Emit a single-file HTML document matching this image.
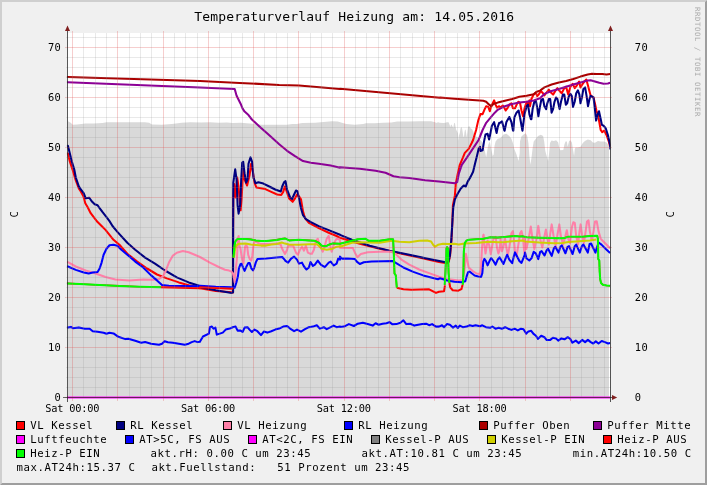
<!DOCTYPE html><html><head><meta charset="utf-8"><title>Temperaturverlauf Heizung</title>
<style>html,body{margin:0;padding:0;background:#f0f0f0;overflow:hidden}svg{display:block}text{font-family:"DejaVu Sans Mono","Liberation Mono",monospace}</style></head><body>
<svg width="707" height="485" viewBox="0 0 707 485">
<defs><clipPath id="cv"><rect x="66.4" y="33" width="544.1" height="366"/></clipPath></defs>
<rect x="0" y="0" width="707" height="485" fill="#f0f0f0"/>
<path d="M0 0H707L705 2H2V483L0 485Z" fill="#cfcfcf"/>
<path d="M707 0V485H0L2 483H705V2Z" fill="#9e9e9e"/>
<rect x="67" y="33" width="543" height="365" fill="#fff"/>
<path d="M68 398L68.0 121.9L68.0 121.3L70.7 122.7L72.7 124.7L77.0 124.4L85.5 123.6L93.9 123.6L102.4 123.0L106.7 122.2L116.6 122.2L130.7 122.2L144.9 122.2L149.1 122.7L151.9 124.4L161.8 124.7L171.7 124.1L176.0 123.6L181.6 122.7L190.1 122.2L201.4 122.4L209.9 122.2L218.4 122.7L226.9 122.4L232.6 123.0L241.0 122.7L246.7 123.3L255.7 124.1L261.3 124.7L267.0 124.7L278.3 124.7L286.8 124.7L292.4 123.9L296.7 124.1L302.3 123.0L315.1 122.7L323.6 121.9L332.0 121.3L337.7 121.6L341.9 122.7L346.2 124.1L354.7 124.7L363.2 124.1L366.0 123.3L374.5 123.3L383.0 122.7L391.4 122.4L397.1 121.6L408.4 121.6L419.7 121.3L431.0 121.3L435.3 122.2L436.0 123.0L438.2 122.2L439.6 122.8L443.2 123.0L445.4 122.8L446.8 122.2L448.6 122.2L449.7 125.0L450.3 127.2L450.8 125.3L451.5 124.6L452.5 126.4L453.3 128.0L454.0 123.5L454.9 122.8L455.5 126.4L456.2 129.7L457.3 131.8L458.0 133.6L458.5 140.9L458.9 135.8L459.8 132.9L460.5 128.6L461.4 127.0L462.1 128.6L462.8 132.9L463.4 136.9L464.0 136.5L464.5 132.2L465.0 129.7L465.6 129.7L466.2 133.6L466.7 137.6L467.2 133.6L467.9 127.9L468.8 126.1L469.8 126.8L470.6 128.2L472.1 129.3L473.2 131.5L473.9 133.6L474.6 135.8L477.5 137.3L481.8 141.6L483.3 146.0L484.7 150.3L486.2 157.5L487.3 150.3L488.3 144.5L489.8 141.6L491.2 148.9L492.7 156.1L493.7 154.6L494.5 146.0L495.6 141.6L497.7 138.8L500.6 138.0L503.5 134.4L506.4 133.7L509.3 135.9L511.4 138.8L512.9 143.1L514.3 148.9L516.5 154.6L518.6 161.1L519.7 153.2L520.0 141.6L521.4 136.6L523.6 134.4L525.8 133.3L527.2 135.9L528.4 143.1L529.4 156.1L530.4 164.7L531.5 157.5L532.7 147.4L533.7 141.6L535.9 138.8L538.0 135.9L540.9 134.7L543.1 135.9L544.2 141.6L545.3 151.0L546.7 156.1L548.1 161.1L549.1 153.2L550.0 143.1L551.5 140.5L553.9 140.9L556.1 140.2L558.2 142.4L559.2 147.4L560.4 150.3L563.3 150.0L564.4 144.5L565.5 141.6L566.9 141.6L567.6 146.7L569.1 140.9L570.5 140.2L571.9 142.4L573.1 150.3L574.1 156.1L574.8 148.9L575.6 147.4L577.7 147.4L580.6 146.7L582.8 143.1L584.9 140.9L587.8 139.5L590.7 140.2L592.9 142.4L595.0 142.8L597.9 140.9L600.8 141.6L603.7 141.6L606.6 142.4L609.0 146.0L609 398Z" fill="#d9d9d9"/>
<g clip-path="url(#cv)"><path d="M66.9 153.4L67.9 153.4L69.9 161.7L72.9 170.6L75.8 180.5L78.8 188.4L80.8 191.4L83.4 196.3L85.3 203.3L87.7 207.2L90.7 213.2L93.7 217.1L97.6 222.1L101.6 226.0L105.5 229.9L113.5 239.8L119.4 244.8L127.3 253.7L137.2 261.6L147.1 268.5L157.0 274.5L166.9 278.4L178.8 282.4L188.7 285.3L200.0 287.3L200.0 288.3L215.8 290.9L231.7 292.3L232.9 292.5L233.1 236.0L233.3 199.4L234.1 184.0L235.6 197.4L236.4 187.5L237.2 177.6L238.6 187.5L240.6 210.3L241.6 199.4L242.6 179.6L243.6 167.7L244.6 179.6L247.1 185.5L249.5 175.6L251.1 163.8L252.5 169.7L254.5 182.6L256.4 187.5L259.4 187.9L265.3 189.1L271.3 191.9L277.2 194.5L281.2 195.0L283.2 191.9L284.8 186.5L286.7 191.5L289.1 198.4L292.7 201.8L295.0 198.4L297.0 194.5L299.0 196.4L301.0 199.4L303.0 211.3L305.0 218.2L308.9 222.8L318.8 228.1L328.7 232.7L336.6 236.0L340.0 237.8L359.8 243.8L379.6 248.7L399.4 253.3L419.2 257.6L439.0 262.0L446.9 263.2L448.7 262.0L450.1 255.6L451.5 239.8L452.3 224.0L452.9 205.3L454.9 195.4L455.8 183.6L457.8 173.7L459.8 164.8L462.8 157.8L464.8 152.9L468.7 148.9L471.7 143.0L473.1 140.0L476.1 130.0L478.2 120.6L480.4 114.1L482.6 114.1L484.7 109.1L486.2 106.2L488.3 106.9L489.8 111.2L491.2 106.2L492.7 103.3L494.1 100.4L495.6 104.7L497.0 107.6L499.2 106.2L500.6 107.6L502.8 105.5L504.2 107.6L505.7 110.5L507.8 107.6L509.3 104.7L511.4 103.3L512.9 108.3L515.0 108.3L517.2 103.3L518.6 101.8L520.1 103.3L521.5 110.5L523.0 116.3L524.4 109.1L526.6 101.8L528.0 104.7L529.5 100.4L530.0 106.2L531.4 99.0L533.6 94.6L535.8 92.5L537.2 96.1L538.7 94.6L540.8 91.0L543.0 93.2L544.4 95.4L546.6 92.5L548.8 89.6L550.9 92.5L553.1 94.6L555.3 91.0L557.4 88.1L559.6 91.0L561.7 93.2L563.9 88.9L566.1 86.7L568.2 94.6L570.4 86.7L572.6 83.8L574.7 88.1L576.9 85.3L579.1 81.6L580.5 87.4L582.7 83.8L584.8 80.9L586.3 79.5L587.7 84.5L589.2 90.3L590.6 95.4L593.5 97.5L594.9 103.3L596.4 110.5L597.8 114.8L599.3 122.0L600.7 130.0L602.2 132.2L604.3 130.7L606.5 135.0L608.6 140.8L610.1 146.6" stroke="#ff0000" stroke-width="2.05" fill="none" stroke-linejoin="round" stroke-linecap="butt" />
<path d="M66.9 145.8L67.9 145.8L69.9 153.8L71.9 161.7L74.3 169.6L75.8 177.5L78.8 186.4L80.8 189.4L83.8 193.4L85.7 198.3L89.3 197.7L91.7 201.3L94.7 204.3L97.6 205.2L99.6 208.2L102.6 212.2L106.5 217.1L109.5 221.1L112.5 226.0L117.4 231.9L127.3 242.8L135.2 249.7L145.1 257.6L155.0 263.6L165.0 270.5L176.8 277.4L188.7 282.4L200.0 285.9L200.0 287.3L215.8 290.3L231.7 292.9L233.1 292.3L233.1 236.0L233.3 182.6L235.2 169.3L236.6 179.6L237.6 205.3L238.6 213.7L240.2 204.4L241.2 179.6L242.2 162.8L243.2 161.8L244.6 173.7L246.1 182.6L247.5 179.6L248.5 163.8L250.5 157.4L252.1 161.8L253.5 177.6L255.4 183.2L258.4 182.2L263.4 183.6L269.3 186.5L275.2 189.5L280.8 191.5L282.2 186.5L284.2 182.0L285.5 181.2L287.1 189.5L290.1 197.4L292.1 199.0L294.1 194.5L296.0 190.5L297.4 191.1L299.0 198.4L301.0 208.3L303.0 215.2L305.9 219.2L310.9 222.2L318.8 226.1L328.7 230.1L340.0 234.7L340.0 234.9L351.9 239.8L369.7 245.7L389.5 250.7L409.3 254.7L429.1 259.0L446.9 262.6L448.5 261.6L449.9 255.6L451.3 239.8L452.5 220.0L452.5 219.2L453.3 207.3L454.9 199.4L457.8 193.5L460.8 188.5L463.8 185.5L465.7 186.5L467.7 181.6L470.7 176.6L473.1 171.7L475.0 163.8L477.0 155.8L478.6 148.9L480.0 146.9L480.4 151.0L482.6 150.3L484.0 141.6L485.5 134.4L487.6 133.7L489.1 139.5L490.5 133.0L491.9 125.8L494.1 122.2L495.6 128.7L496.6 133.0L497.7 127.2L499.2 122.9L499.2 123.5L502.0 121.3L504.2 130.0L504.6 130.7L506.4 122.0L509.3 117.0L511.4 122.0L512.9 130.0L513.3 130.7L514.3 117.7L516.5 112.7L518.6 110.5L520.1 117.7L522.3 130.0L522.5 130.7L524.4 114.8L526.6 106.2L528.0 104.7L529.5 114.8L530.9 119.2L531.4 119.2L532.6 109.1L534.3 101.8L535.8 100.4L537.2 107.6L538.4 116.3L539.8 107.6L541.3 99.7L543.0 99.0L544.4 106.2L546.2 109.1L547.3 103.3L548.8 99.0L550.2 99.0L551.6 112.7L553.1 109.1L554.5 101.8L556.0 97.5L557.4 99.0L559.6 109.1L561.0 101.8L562.9 94.6L564.3 94.6L565.8 104.7L567.2 103.3L568.7 96.8L570.4 93.9L571.8 96.1L573.0 106.9L574.7 101.8L576.2 93.2L577.9 90.3L579.4 94.6L580.5 103.3L581.9 97.5L583.4 88.9L585.1 87.4L586.6 96.1L588.0 106.2L589.5 99.0L590.6 95.8L593.5 97.5L594.9 109.1L596.1 120.6L597.5 114.8L599.0 111.2L600.4 117.7L601.9 124.9L603.6 125.7L605.8 128.5L607.9 135.0L610.1 145.1L610.4 149.5" stroke="#000080" stroke-width="2.05" fill="none" stroke-linejoin="round" stroke-linecap="butt" />
<path d="M66.9 262.2L67.9 262.2L75.8 266.5L85.7 270.5L95.6 273.5L105.5 277.0L115.4 279.4L129.3 280.4L143.2 279.4L153.1 279.8L159.0 279.0L163.0 276.4L165.9 270.5L168.9 262.6L172.9 255.6L176.8 252.7L182.8 251.1L188.7 252.3L194.7 254.7L200.0 257.0L200.0 257.0L209.9 262.6L219.8 267.5L225.0 269.8L229.1 270.6L231.4 271.6L233.0 273.5L234.3 279.6L234.7 282.4L235.3 276.5L236.1 266.2L236.9 259.0L237.9 238.4L238.6 236.1L239.4 245.6L240.5 248.7L242.0 259.0L243.4 263.7L244.1 255.9L245.1 246.6L246.1 245.1L247.2 246.6L248.2 254.9L249.7 259.0L251.3 260.6L252.3 255.9L253.4 245.6L254.4 242.0L255.9 241.5L258.0 243.0L261.1 244.1L266.2 244.1L271.4 243.9L276.5 243.6L280.7 244.6L281.7 247.7L283.2 250.8L285.0 253.9L285.1 253.7L287.1 249.7L288.1 245.7L293.1 245.7L296.0 252.7L298.0 254.7L300.0 249.7L302.0 246.7L304.0 250.7L305.9 245.7L307.9 252.7L309.9 253.7L311.9 253.7L313.9 249.7L315.8 240.8L317.8 238.8L319.8 245.7L322.8 251.7L324.8 245.7L326.7 238.8L328.7 235.8L330.7 247.7L331.7 251.7L334.7 241.8L336.6 238.8L340.0 239.8L340.0 247.7L352.9 248.1L354.9 252.7L357.4 257.2L360.8 254.1L367.7 252.3L379.6 251.7L391.5 251.7L396.4 254.7L401.4 259.6L409.3 264.6L419.2 269.5L429.1 273.1L439.0 276.8L446.9 279.0L458.8 280.6L462.8 280.0L464.8 267.5L465.9 253.7L467.1 259.6L468.7 267.5L472.7 271.1L476.6 273.5L480.0 273.9L480.4 273.3L481.1 266.1L481.8 251.6L482.6 240.1L483.3 235.1L483.6 234.7L484.4 244.8L485.5 253.5L486.5 247.7L487.6 240.5L489.1 244.8L490.8 254.2L491.9 247.7L493.4 239.1L495.6 236.9L497.0 247.7L498.4 253.5L499.5 250.6L500.6 239.1L502.0 251.3L503.5 246.3L504.9 237.6L506.4 247.7L507.8 254.9L509.3 247.7L511.4 233.3L512.9 231.1L513.9 239.1L515.0 252.0L516.5 256.4L517.9 247.7L520.1 233.3L521.5 231.1L523.0 237.6L524.4 253.5L525.0 238.9L526.4 249.0L528.6 238.9L530.8 226.6L532.5 238.9L534.4 249.0L536.5 238.9L538.3 225.9L540.2 238.9L542.3 247.5L544.5 236.0L545.9 229.5L547.4 238.9L548.8 244.6L550.3 233.1L551.7 224.4L553.6 236.0L555.6 246.1L557.5 234.5L559.3 224.4L561.1 237.4L563.2 244.6L565.4 236.0L566.8 230.2L568.3 238.9L570.0 243.2L571.9 227.3L573.3 222.3L574.8 223.0L576.2 236.0L578.1 244.6L579.5 231.6L580.6 224.4L582.0 234.5L583.9 243.2L585.6 231.6L587.0 221.5L588.5 220.4L589.9 231.6L591.7 240.3L593.5 231.6L595.0 221.5L596.7 221.3L598.6 231.6L600.8 238.9L604.4 242.5L610.1 248.2" stroke="#ff80a8" stroke-width="2.05" fill="none" stroke-linejoin="round" stroke-linecap="butt" />
<path d="M66.9 266.5L67.9 266.5L75.8 269.9L83.8 272.5L88.7 273.5L92.7 272.5L97.6 271.9L99.6 268.5L101.6 262.6L103.6 254.7L106.5 248.7L109.5 245.3L113.5 244.8L117.4 245.7L121.4 249.7L127.3 254.7L135.2 261.6L143.2 267.5L151.1 275.4L157.0 280.4L162.0 285.0L168.9 285.7L182.8 285.9L200.0 286.3L200.0 285.7L215.8 286.7L231.7 287.3L234.7 287.7L236.3 282.7L237.9 276.5L238.9 268.3L240.5 264.2L241.5 263.7L243.0 267.3L244.6 270.9L246.1 267.3L248.2 263.1L249.7 263.1L251.3 268.3L253.0 270.4L254.4 267.3L255.9 262.1L257.5 259.0L266.2 258.5L276.5 257.5L282.2 257.0L285.0 260.1L285.1 260.6L288.1 262.6L291.1 258.6L294.1 256.6L297.0 259.6L299.0 263.6L302.0 262.6L304.0 266.5L306.5 269.5L308.9 267.5L310.5 262.0L312.9 265.9L314.9 264.6L317.8 260.6L320.8 264.6L324.8 267.1L328.7 262.6L330.7 261.6L333.7 265.5L336.6 263.6L338.2 258.6L340.0 259.6L340.0 256.6L342.0 258.6L347.9 258.6L354.9 259.0L356.8 261.6L359.8 264.0L363.8 262.2L371.7 261.6L383.6 261.2L392.5 261.0L395.4 262.6L403.4 267.5L413.3 271.9L423.2 275.4L433.1 278.0L438.0 279.2L440.0 278.3L447.2 280.5L454.4 281.7L461.6 282.2L465.3 281.2L466.7 276.2L468.1 272.1L469.6 271.6L471.7 273.3L474.6 275.5L478.2 276.5L481.1 276.9L482.3 273.3L483.3 261.7L484.4 258.9L485.9 261.0L487.6 265.4L489.8 260.3L491.2 258.1L493.4 261.0L495.6 264.6L497.7 259.6L499.5 257.4L501.3 260.3L503.5 263.9L505.7 258.1L507.1 254.8L509.3 259.6L512.2 263.2L513.9 256.0L515.0 252.4L517.2 256.7L519.4 261.0L521.5 262.9L523.7 257.4L524.8 254.5L525.0 252.6L526.4 258.3L529.3 260.5L531.5 258.3L533.7 251.8L535.8 253.3L538.3 259.1L540.2 251.8L541.6 251.1L544.5 255.5L546.6 250.4L548.1 248.7L551.7 255.9L553.9 248.2L555.3 246.8L558.5 252.6L560.4 246.8L561.8 245.4L565.4 253.3L567.6 246.8L569.0 246.1L572.6 254.0L574.8 246.1L576.2 244.6L579.8 252.6L582.0 245.8L583.4 244.6L587.8 252.6L589.6 243.9L591.1 243.5L595.4 252.6L596.9 247.5L598.6 242.5L601.5 244.6L605.8 249.0L610.1 253.0" stroke="#0000ff" stroke-width="2.05" fill="none" stroke-linejoin="round" stroke-linecap="butt" />
<path d="M66.9 76.9L67.5 76.9L200.0 80.9L200.0 80.9L239.6 82.9L279.2 84.9L299.0 85.4L340.0 89.0L340.0 88.8L440.0 97.7L440.0 97.5L454.4 98.7L468.9 99.7L483.3 100.8L486.2 101.8L489.1 104.7L491.2 106.2L493.4 104.0L497.7 102.6L504.9 100.8L512.2 99.0L519.4 96.8L526.6 95.8L533.8 94.3L536.7 91.7L540.0 90.6L544.4 87.4L551.6 84.5L558.9 82.4L566.1 80.9L573.3 79.0L580.5 76.6L587.7 74.4L592.0 73.7L596.4 74.1L602.2 74.0L606.5 74.4L610.1 74.1" stroke="#aa0000" stroke-width="2.05" fill="none" stroke-linejoin="round" stroke-linecap="butt" />
<path d="M66.9 82.3L67.5 82.3L200.0 87.4L200.0 87.4L234.7 89.0L236.6 95.7L240.6 103.7L242.6 108.6L244.6 111.6L248.5 115.1L251.9 119.5L259.4 126.4L269.3 135.3L279.2 144.3L287.1 150.8L295.0 156.1L303.0 161.1L310.9 162.7L318.8 163.7L330.7 165.6L340.0 167.7L340.0 167.3L359.8 168.7L375.6 170.7L385.5 172.7L393.5 176.2L399.4 177.2L409.3 178.0L425.1 180.2L439.0 181.6L454.9 183.2L457.2 182.0L458.8 173.7L461.8 164.8L466.7 157.8L470.7 151.9L474.7 145.9L478.6 140.0L482.6 130.0L486.2 122.8L490.5 117.7L494.8 112.7L497.7 109.8L504.9 106.2L512.2 104.0L519.4 102.6L526.6 101.8L533.8 100.4L540.0 98.2L544.4 93.9L551.6 91.0L558.9 88.9L566.1 86.7L573.3 84.5L580.5 82.4L587.7 80.5L590.6 80.2L594.9 81.4L599.3 82.8L603.6 83.8L607.9 83.5L610.1 82.8" stroke="#8c0096" stroke-width="2.05" fill="none" stroke-linejoin="round" stroke-linecap="butt" />
<path d="M67 397.5H610" stroke="#ff00ff" stroke-width="2" fill="none"/>
<path d="M66.9 327.4L67.9 327.4L70.9 326.9L72.9 328.2L78.8 327.4L84.8 328.8L89.7 328.8L92.7 331.2L97.6 331.8L103.6 332.8L106.5 333.8L109.5 332.8L113.5 333.4L118.4 336.8L125.3 339.1L128.3 338.7L135.2 340.7L141.2 342.7L145.1 342.1L151.1 343.7L159.0 344.7L162.0 343.7L164.6 341.3L167.9 342.3L172.9 342.7L178.8 343.7L184.8 344.7L188.7 343.7L191.7 342.1L194.7 341.1L197.6 342.1L200.0 341.7L200.0 341.5L203.0 336.5L208.9 333.6L209.9 327.2L211.9 326.6L213.5 328.6L215.4 327.6L216.8 334.6L219.8 333.6L222.8 332.6L225.7 329.6L229.7 328.6L232.7 327.2L235.6 326.6L237.6 330.6L240.6 330.6L242.6 332.0L244.6 327.6L247.5 327.2L249.5 329.6L251.9 332.0L254.5 329.6L257.4 331.2L261.0 335.1L263.8 331.6L267.3 332.6L271.3 331.2L275.2 329.6L279.2 328.6L283.2 326.6L287.1 326.0L290.1 328.6L294.1 331.2L297.0 329.6L301.0 331.6L305.0 329.2L308.9 327.2L312.9 326.6L316.8 325.2L319.8 328.6L323.8 327.2L326.7 329.2L330.7 327.2L333.7 325.6L336.6 327.2L340.0 326.6L340.0 327.0L344.0 326.6L348.9 324.1L353.9 326.0L357.8 323.7L362.8 322.7L367.7 324.1L372.7 325.6L375.6 323.3L378.6 324.7L382.6 323.7L386.5 323.3L389.5 322.1L392.5 324.3L396.4 324.1L400.4 322.7L403.4 320.3L406.3 324.1L410.3 323.7L414.3 325.6L418.2 324.7L422.2 324.1L426.1 323.7L429.1 325.2L432.1 324.1L436.0 326.6L439.0 326.6L442.0 325.2L444.0 327.2L446.9 324.1L449.9 324.7L452.9 327.6L455.8 325.6L457.8 328.0L459.8 325.6L462.8 327.2L466.7 326.6L469.7 325.2L472.7 326.0L475.6 325.2L480.0 326.2L482.3 325.3L485.9 327.2L490.2 327.8L492.3 326.5L495.5 328.7L498.7 327.8L501.9 328.7L505.1 327.2L508.2 328.7L511.4 329.9L514.6 328.7L517.8 330.4L521.0 328.7L523.5 329.3L526.3 333.6L528.4 331.4L531.2 330.8L533.3 333.6L535.9 335.7L538.0 338.9L541.2 335.7L544.4 337.2L546.5 339.9L550.3 339.9L552.9 337.8L556.0 338.4L558.2 340.6L561.4 338.4L564.5 339.3L567.7 337.2L570.3 338.9L572.4 342.7L575.8 340.6L578.8 343.1L582.2 339.9L585.1 342.1L587.9 339.9L590.7 342.1L593.2 343.5L595.8 341.4L598.5 343.5L601.7 341.0L604.9 342.1L608.1 343.5L610.2 343.1" stroke="#0000ff" stroke-width="2.05" fill="none" stroke-linejoin="round" stroke-linecap="butt" />
<path d="M233.7 256.6L234.1 257.0L234.8 250.8L235.8 246.6L237.4 244.4L239.4 243.8L245.6 243.6L250.8 244.6L255.9 245.1L261.1 245.6L266.2 245.6L271.4 244.6L276.5 244.1L281.7 242.5L285.0 243.6L289.1 244.4L299.0 244.8L308.9 244.2L316.8 244.2L318.8 245.7L321.8 248.7L326.7 249.7L332.7 248.7L336.6 246.7L340.0 246.3L340.0 246.7L345.9 244.8L351.9 242.8L359.8 242.2L379.6 242.8L391.5 240.8L399.4 241.8L409.3 242.2L419.2 240.8L427.1 240.4L431.1 241.4L433.1 244.8L435.0 246.7L438.0 244.8L443.0 243.8L448.7 244.1L454.4 243.7L458.8 244.5L464.5 243.4L476.1 243.1L483.3 242.2L490.5 241.7L497.7 242.2L504.9 241.9L512.2 241.2L522.3 240.5L525.1 241.4L539.4 242.5L553.9 243.2L562.5 242.9L568.3 242.0L582.7 241.0L589.9 240.6L596.4 239.6" stroke="#d0d000" stroke-width="2.05" fill="none" stroke-linejoin="round" stroke-linecap="butt" />
<path d="M161.0 287.3L200.0 288.3L200.0 287.3L231.7 288.7L233.3 288.3" stroke="#ff0000" stroke-width="2.05" fill="none" stroke-linejoin="round" stroke-linecap="butt" />
<path d="M396.8 287.7L403.4 289.3L411.3 289.7L429.1 289.3L432.1 290.9L436.0 292.9L439.0 291.7L444.0 291.3L445.0 285.3" stroke="#ff0000" stroke-width="2.05" fill="none" stroke-linejoin="round" stroke-linecap="butt" />
<path d="M449.4 283.0L450.2 287.4L452.7 290.2L458.3 290.7L461.4 289.2L462.6 284.9" stroke="#ff0000" stroke-width="2.05" fill="none" stroke-linejoin="round" stroke-linecap="butt" />
<path d="M66.9 283.4L67.5 283.4L79.8 284.0L99.6 285.0L119.4 285.9L139.2 286.7L161.0 287.3" stroke="#ff0000" stroke-width="1.6" fill="none" stroke-linejoin="round" stroke-linecap="butt" />
<path d="M66.9 283.4L67.5 283.4L79.8 284.0L99.6 285.0L119.4 285.9L139.2 286.7L161.0 287.3" stroke="#00ff00" stroke-width="2.05" fill="none" stroke-linejoin="round" stroke-linecap="butt" />
<path d="M233.3 257.6L233.6 254.9L233.8 253.4L234.5 245.6L235.3 241.5L236.9 239.4L238.4 238.9L245.6 238.9L250.8 239.4L255.9 240.5L261.1 241.0L266.2 241.0L271.4 240.5L276.5 239.9L281.7 238.9L285.0 238.4L289.1 240.4L299.0 239.8L308.9 240.4L314.9 240.8L318.8 242.8L321.8 245.7L325.7 246.3L328.7 244.8L332.7 243.4L340.0 243.8L340.0 243.8L347.9 241.8L357.8 239.2L365.7 238.8L368.7 240.8L379.6 240.8L389.5 239.2L393.1 239.2L393.9 255.6L394.5 273.5L395.8 275.4L396.8 287.7" stroke="#ff0000" stroke-width="1.6" fill="none" stroke-linejoin="round" stroke-linecap="butt" />
<path d="M233.3 257.6L233.6 254.9L233.8 253.4L234.5 245.6L235.3 241.5L236.9 239.4L238.4 238.9L245.6 238.9L250.8 239.4L255.9 240.5L261.1 241.0L266.2 241.0L271.4 240.5L276.5 239.9L281.7 238.9L285.0 238.4L289.1 240.4L299.0 239.8L308.9 240.4L314.9 240.8L318.8 242.8L321.8 245.7L325.7 246.3L328.7 244.8L332.7 243.4L340.0 243.8L340.0 243.8L347.9 241.8L357.8 239.2L365.7 238.8L368.7 240.8L379.6 240.8L389.5 239.2L393.1 239.2L393.9 255.6L394.5 273.5L395.8 275.4L396.8 287.7" stroke="#00ff00" stroke-width="2.05" fill="none" stroke-linejoin="round" stroke-linecap="butt" />
<path d="M444.7 284.9L445.4 273.1L446.4 248.4L447.1 247.1L447.9 248.4L448.6 273.1L449.4 283.0" stroke="#ff0000" stroke-width="1.6" fill="none" stroke-linejoin="round" stroke-linecap="butt" />
<path d="M444.7 284.9L445.4 273.1L446.4 248.4L447.1 247.1L447.9 248.4L448.6 273.1L449.4 283.0" stroke="#00ff00" stroke-width="2.05" fill="none" stroke-linejoin="round" stroke-linecap="butt" />
<path d="M462.8 284.8L463.4 273.3L463.8 251.6L464.8 243.0L466.7 240.4L468.9 239.8L480.4 238.9L483.3 238.8L490.5 237.3L497.7 237.6L504.9 236.9L512.2 236.2L515.0 235.9L519.4 236.5L522.3 236.2L526.6 237.3L539.4 237.7L553.9 238.1L564.0 238.1L568.3 236.7L582.7 236.7L589.9 236.0L597.2 235.7L597.9 238.9L598.3 259.1L599.3 260.5L599.7 272.0L600.2 279.3L601.0 282.9L602.9 284.7L606.5 285.5L610.1 285.8" stroke="#ff0000" stroke-width="1.6" fill="none" stroke-linejoin="round" stroke-linecap="butt" />
<path d="M462.8 284.8L463.4 273.3L463.8 251.6L464.8 243.0L466.7 240.4L468.9 239.8L480.4 238.9L483.3 238.8L490.5 237.3L497.7 237.6L504.9 236.9L512.2 236.2L515.0 235.9L519.4 236.5L522.3 236.2L526.6 237.3L539.4 237.7L553.9 238.1L564.0 238.1L568.3 236.7L582.7 236.7L589.9 236.0L597.2 235.7L597.9 238.9L598.3 259.1L599.3 260.5L599.7 272.0L600.2 279.3L601.0 282.9L602.9 284.7L606.5 285.5L610.1 285.8" stroke="#00ff00" stroke-width="2.05" fill="none" stroke-linejoin="round" stroke-linecap="butt" /></g>
<path d="M83.5 33V398M95.5 33V398M106.5 33V398M129.5 33V398M140.5 33V398M151.5 33V398M174.5 33V398M185.5 33V398M197.5 33V398M219.5 33V398M231.5 33V398M242.5 33V398M264.5 33V398M276.5 33V398M287.5 33V398M310.5 33V398M321.5 33V398M332.5 33V398M355.5 33V398M366.5 33V398M378.5 33V398M400.5 33V398M412.5 33V398M423.5 33V398M445.5 33V398M457.5 33V398M468.5 33V398M491.5 33V398M502.5 33V398M513.5 33V398M536.5 33V398M547.5 33V398M559.5 33V398M581.5 33V398M593.5 33V398M604.5 33V398" stroke="#8f8f8f" stroke-opacity="0.2" stroke-width="1" fill="none" shape-rendering="crispEdges"/>
<path d="M66 387.5H611M66 377.5H611M66 367.5H611M66 357.5H611M66 337.5H611M66 327.5H611M66 317.5H611M66 307.5H611M66 287.5H611M66 277.5H611M66 267.5H611M66 257.5H611M66 237.5H611M66 227.5H611M66 217.5H611M66 207.5H611M66 187.5H611M66 177.5H611M66 167.5H611M66 157.5H611M66 137.5H611M66 127.5H611M66 117.5H611M66 107.5H611M66 87.5H611M66 77.5H611M66 67.5H611M66 57.5H611M66 37.5H611" stroke="#8f8f8f" stroke-opacity="0.2" stroke-width="1" fill="none" shape-rendering="crispEdges"/>
<path d="M72.5 31V401M117.5 31V401M163.5 31V401M208.5 31V401M253.5 31V401M298.5 31V401M344.5 31V401M389.5 31V401M434.5 31V401M479.5 31V401M525.5 31V401M570.5 31V401" stroke="#de4f4f" stroke-opacity="0.28" stroke-width="1" fill="none" shape-rendering="crispEdges"/>
<path d="M65 397.5H612M65 347.5H612M65 297.5H612M65 247.5H612M65 197.5H612M65 147.5H612M65 97.5H612M65 47.5H612" stroke="#de4f4f" stroke-opacity="0.28" stroke-width="1" fill="none" shape-rendering="crispEdges"/>
<path d="M67.5 401.5V30M610.5 401.5V30" stroke="#1f1f1f" stroke-opacity="0.75" stroke-width="1" fill="none" shape-rendering="crispEdges"/>
<path d="M63 397.5H612" stroke="#1f1f1f" stroke-opacity="0.65" stroke-width="1" fill="none" shape-rendering="crispEdges"/>
<path d="M65 31L67.5 25.6L70 31Z" fill="#801f1f"/>
<path d="M608 31L610.5 25.6L613 31Z" fill="#801f1f"/>
<path d="M612 395L617.2 397.5L612 400Z" fill="#801f1f"/>
<text x="194.3" y="21" font-size="13" letter-spacing="0.173" text-anchor="start" fill="#000" xml:space="preserve" >Temperaturverlauf Heizung am: 14.05.2016</text>
<text x="54.599999999999994" y="401.0" font-size="10.4" letter-spacing="0.439" text-anchor="start" fill="#000" xml:space="preserve" >0</text>
<text x="634.7" y="401.0" font-size="10.4" letter-spacing="0.439" text-anchor="start" fill="#000" xml:space="preserve" >0</text>
<text x="47.9" y="351.0" font-size="10.4" letter-spacing="0.439" text-anchor="start" fill="#000" xml:space="preserve" >10</text>
<text x="634.7" y="351.0" font-size="10.4" letter-spacing="0.439" text-anchor="start" fill="#000" xml:space="preserve" >10</text>
<text x="47.9" y="301.0" font-size="10.4" letter-spacing="0.439" text-anchor="start" fill="#000" xml:space="preserve" >20</text>
<text x="634.7" y="301.0" font-size="10.4" letter-spacing="0.439" text-anchor="start" fill="#000" xml:space="preserve" >20</text>
<text x="47.9" y="251.0" font-size="10.4" letter-spacing="0.439" text-anchor="start" fill="#000" xml:space="preserve" >30</text>
<text x="634.7" y="251.0" font-size="10.4" letter-spacing="0.439" text-anchor="start" fill="#000" xml:space="preserve" >30</text>
<text x="47.9" y="201.0" font-size="10.4" letter-spacing="0.439" text-anchor="start" fill="#000" xml:space="preserve" >40</text>
<text x="634.7" y="201.0" font-size="10.4" letter-spacing="0.439" text-anchor="start" fill="#000" xml:space="preserve" >40</text>
<text x="47.9" y="151.0" font-size="10.4" letter-spacing="0.439" text-anchor="start" fill="#000" xml:space="preserve" >50</text>
<text x="634.7" y="151.0" font-size="10.4" letter-spacing="0.439" text-anchor="start" fill="#000" xml:space="preserve" >50</text>
<text x="47.9" y="101.0" font-size="10.4" letter-spacing="0.439" text-anchor="start" fill="#000" xml:space="preserve" >60</text>
<text x="634.7" y="101.0" font-size="10.4" letter-spacing="0.439" text-anchor="start" fill="#000" xml:space="preserve" >60</text>
<text x="47.9" y="51.0" font-size="10.4" letter-spacing="0.439" text-anchor="start" fill="#000" xml:space="preserve" >70</text>
<text x="634.7" y="51.0" font-size="10.4" letter-spacing="0.439" text-anchor="start" fill="#000" xml:space="preserve" >70</text>
<text x="45.35600000000001" y="412" font-size="10.3" letter-spacing="-0.201" text-anchor="start" fill="#000" xml:space="preserve" >Sat 00:00</text>
<text x="181.106" y="412" font-size="10.3" letter-spacing="-0.201" text-anchor="start" fill="#000" xml:space="preserve" >Sat 06:00</text>
<text x="316.856" y="412" font-size="10.3" letter-spacing="-0.201" text-anchor="start" fill="#000" xml:space="preserve" >Sat 12:00</text>
<text x="452.606" y="412" font-size="10.3" letter-spacing="-0.201" text-anchor="start" fill="#000" xml:space="preserve" >Sat 18:00</text>
<rect x="16.5" y="421.5" width="8" height="8" fill="#ff0000" stroke="#000" stroke-width="1" shape-rendering="crispEdges"/>
<text x="30.3" y="429" font-size="10.67" letter-spacing="0.576" text-anchor="start" fill="#000" xml:space="preserve" >VL Kessel</text>
<rect x="116.5" y="421.5" width="8" height="8" fill="#000080" stroke="#000" stroke-width="1" shape-rendering="crispEdges"/>
<text x="130.3" y="429" font-size="10.67" letter-spacing="0.576" text-anchor="start" fill="#000" xml:space="preserve" >RL Kessel</text>
<rect x="223.5" y="421.5" width="8" height="8" fill="#ff80a8" stroke="#000" stroke-width="1" shape-rendering="crispEdges"/>
<text x="237.3" y="429" font-size="10.67" letter-spacing="0.576" text-anchor="start" fill="#000" xml:space="preserve" >VL Heizung</text>
<rect x="344.5" y="421.5" width="8" height="8" fill="#0000ff" stroke="#000" stroke-width="1" shape-rendering="crispEdges"/>
<text x="358.3" y="429" font-size="10.67" letter-spacing="0.576" text-anchor="start" fill="#000" xml:space="preserve" >RL Heizung</text>
<rect x="479.5" y="421.5" width="8" height="8" fill="#aa0000" stroke="#000" stroke-width="1" shape-rendering="crispEdges"/>
<text x="493.3" y="429" font-size="10.67" letter-spacing="0.576" text-anchor="start" fill="#000" xml:space="preserve" >Puffer Oben</text>
<rect x="593.5" y="421.5" width="8" height="8" fill="#8c0096" stroke="#000" stroke-width="1" shape-rendering="crispEdges"/>
<text x="607.3" y="429" font-size="10.67" letter-spacing="0.576" text-anchor="start" fill="#000" xml:space="preserve" >Puffer Mitte</text>
<rect x="16.5" y="435.5" width="8" height="8" fill="#ff00ff" stroke="#000" stroke-width="1" shape-rendering="crispEdges"/>
<text x="30.3" y="443" font-size="10.67" letter-spacing="0.576" text-anchor="start" fill="#000" xml:space="preserve" >Luftfeuchte</text>
<rect x="125.5" y="435.5" width="8" height="8" fill="#0000ff" stroke="#000" stroke-width="1" shape-rendering="crispEdges"/>
<text x="139.3" y="443" font-size="10.67" letter-spacing="0.576" text-anchor="start" fill="#000" xml:space="preserve" >AT&gt;5C, FS AUS</text>
<rect x="248.5" y="435.5" width="8" height="8" fill="#ff00ff" stroke="#000" stroke-width="1" shape-rendering="crispEdges"/>
<text x="262.3" y="443" font-size="10.67" letter-spacing="0.576" text-anchor="start" fill="#000" xml:space="preserve" >AT&lt;2C, FS EIN</text>
<rect x="371.5" y="435.5" width="8" height="8" fill="#808080" stroke="#000" stroke-width="1" shape-rendering="crispEdges"/>
<text x="385.3" y="443" font-size="10.67" letter-spacing="0.576" text-anchor="start" fill="#000" xml:space="preserve" >Kessel-P AUS</text>
<rect x="487.5" y="435.5" width="8" height="8" fill="#d0d000" stroke="#000" stroke-width="1" shape-rendering="crispEdges"/>
<text x="501.3" y="443" font-size="10.67" letter-spacing="0.576" text-anchor="start" fill="#000" xml:space="preserve" >Kessel-P EIN</text>
<rect x="603.5" y="435.5" width="8" height="8" fill="#ff0000" stroke="#000" stroke-width="1" shape-rendering="crispEdges"/>
<text x="617.3" y="443" font-size="10.67" letter-spacing="0.576" text-anchor="start" fill="#000" xml:space="preserve" >Heiz-P AUS</text>
<rect x="16.5" y="449.5" width="8" height="8" fill="#00ff00" stroke="#000" stroke-width="1" shape-rendering="crispEdges"/>
<text x="30.3" y="457" font-size="10.67" letter-spacing="0.576" text-anchor="start" fill="#000" xml:space="preserve" >Heiz-P EIN</text>
<text x="150.5" y="457" font-size="10.67" letter-spacing="0.576" text-anchor="start" fill="#000" xml:space="preserve" >akt.rH: 0.00 C um 23:45</text>
<text x="361.5" y="457" font-size="10.67" letter-spacing="0.576" text-anchor="start" fill="#000" xml:space="preserve" >akt.AT:10.81 C um 23:45</text>
<text x="572.8" y="457" font-size="10.67" letter-spacing="0.576" text-anchor="start" fill="#000" xml:space="preserve" >min.AT24h:10.50 C</text>
<text x="16.6" y="471" font-size="10.67" letter-spacing="0.576" text-anchor="start" fill="#000" xml:space="preserve" >max.AT24h:15.37 C</text>
<text x="151.4" y="471" font-size="10.67" letter-spacing="0.576" text-anchor="start" fill="#000" xml:space="preserve" >akt.Fuellstand:   51 Prozent um 23:45</text>
<text x="0" y="0" font-size="10.67" letter-spacing="0.576" text-anchor="start" fill="#000" xml:space="preserve" transform="translate(18,217.5) rotate(-90)">C</text>
<text x="0" y="0" font-size="10.67" letter-spacing="0.576" text-anchor="start" fill="#000" xml:space="preserve" transform="translate(674,217.5) rotate(-90)">C</text>
<text x="0" y="0" font-size="7.3" letter-spacing="0.605" text-anchor="start" fill="#aaaaaa" xml:space="preserve" transform="translate(694.7,7) rotate(90)">RRDTOOL / TOBI OETIKER</text>
</svg></body></html>
